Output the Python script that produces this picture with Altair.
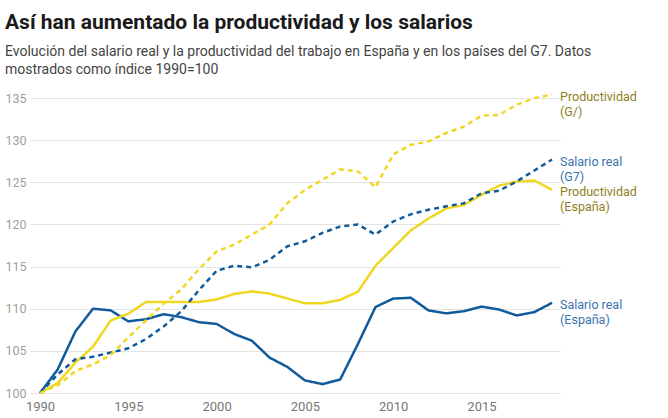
import altair as alt
import pandas as pd

years = list(range(1990, 2020))
salario_espana = [100, 102.8, 107.3, 110.0, 109.8, 108.5, 108.75, 109.35, 109.0, 108.4,
                  108.2, 107.0, 106.2, 104.2, 103.1, 101.5, 101.05, 101.6, 105.8, 110.2,
                  111.2, 111.3, 109.8, 109.45, 109.7, 110.25, 109.9, 109.2, 109.6, 110.7]
prod_espana = [100, 101.2, 103.6, 105.5, 108.6, 109.4, 110.8, 110.8, 110.8, 110.8,
               111.1, 111.75, 112.05, 111.8, 111.2, 110.65, 110.65, 111.05, 112.0, 115.1,
               117.2, 119.3, 120.7, 121.9, 122.3, 123.5, 124.6, 125.1, 125.2, 124.1]
salario_g7 = [100, 102.2, 104.0, 104.3, 104.8, 105.3, 106.4, 107.9, 109.7, 112.2,
              114.5, 115.1, 114.9, 115.8, 117.4, 118.0, 119.0, 119.75, 120.0, 118.8,
              120.35, 121.2, 121.75, 122.15, 122.5, 123.7, 124.0, 125.1, 126.4, 127.7]
prod_g7 = [100, 100.9, 102.6, 103.4, 104.5, 106.6, 108.6, 110.6, 112.3, 114.7,
           116.8, 117.6, 118.8, 120.0, 122.5, 124.1, 125.3, 126.55, 126.3, 124.4,
           128.3, 129.45, 129.85, 130.85, 131.6, 132.9, 133.0, 134.2, 135.0, 135.4]

series_names = ["Salario real (España)", "Productividad (España)",
                "Salario real (G7)", "Productividad (G/)"]
series_values = [salario_espana, prod_espana, salario_g7, prod_g7]
label_texts = [["Salario real", "(España)"], ["Productividad", "(España)"],
               ["Salario real", "(G7)"], ["Productividad", "(G/)"]]

line_colors = ["#105b9c", "#f0d722", "#105b9c", "#f0d722"]
label_colors = ["#3a74ad", "#8c8122", "#3a74ad", "#8c8122"]
dashes = [[1, 0], [1, 0], [5, 4], [5, 4]]

rows = []
for name, vals in zip(series_names, series_values):
    for y, v in zip(years, vals):
        rows.append({"year": y, "value": v, "serie": name})
df = pd.DataFrame(rows)

lab = pd.DataFrame({
    "year": [years[-1]] * 4,
    "value": [v[-1] for v in series_values],
    "serie": series_names,
    "text": label_texts,
})

FONT = "Roboto"

xscale = alt.Scale(domain=[1989.43, 2019.45], nice=False, zero=False)
yscale = alt.Scale(domain=[100, 135], nice=False, zero=False)

lines = alt.Chart(df).mark_line(strokeWidth=2.5, clip=False).encode(
    x=alt.X("year:Q", scale=xscale,
            axis=alt.Axis(values=[1990, 1995, 2000, 2005, 2010, 2015], format="d",
                          title=None, grid=False, ticks=False, domain=False,
                          labelColor="#777777", labelFontSize=13, labelPadding=7,
                          labelFont=FONT)),
    y=alt.Y("value:Q", scale=yscale,
            axis=alt.Axis(values=list(range(100, 140, 5)), title=None, ticks=False,
                          domain=False, gridColor="#e3e3e3", gridWidth=1,
                          labelColor="#a0a0a0", labelFontSize=12.5, labelAlign="left",
                          labelPadding=25, labelFont=FONT, labelBaseline="middle")),
    color=alt.Color("serie:N", scale=alt.Scale(domain=series_names, range=line_colors),
                    legend=None),
    strokeDash=alt.StrokeDash("serie:N", scale=alt.Scale(domain=series_names, range=dashes),
                              legend=None),
    detail="serie:N",
)

labels = alt.Chart(lab).mark_text(align="left", baseline="alphabetic", dx=8, dy=6,
                                  fontSize=12.5, font=FONT, lineHeight=15).encode(
    x=alt.X("year:Q", scale=xscale),
    y=alt.Y("value:Q", scale=yscale),
    text="text",
    color=alt.Color("serie:N", scale=alt.Scale(domain=series_names, range=label_colors),
                    legend=None),
)

chart = alt.layer(lines, labels).resolve_scale(color="independent").properties(
    width=530,
    height=295,
    autosize=alt.AutoSizeParams(type="none"),
    padding={"left": 30, "top": 98, "right": 108, "bottom": 25},
    title=alt.TitleParams(
        text="Así han aumentado la productividad y los salarios",
        subtitle=["Evolución del salario real y la productividad del trabajo en España y en los países del G7. Datos",
                  "mostrados como índice 1990=100"],
        anchor="start", frame="group", dx=-25, offset=13,
        font=FONT, fontSize=21, fontWeight="bold", color="#1a1a1a",
        subtitleFont=FONT, subtitleFontSize=14, subtitleColor="#444444",
        subtitlePadding=12, subtitleLineHeight=18,
    ),
).configure_view(stroke=None)

chart.save("out.html", embed_options={"renderer": "svg", "actions": False})
